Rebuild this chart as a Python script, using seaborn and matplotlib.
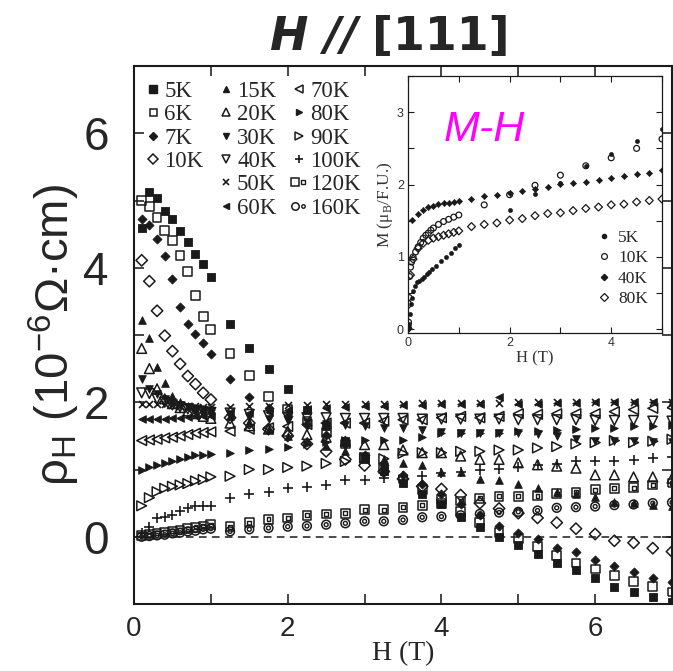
import numpy as np
import pandas as pd
import matplotlib
matplotlib.use("Agg")
import matplotlib.pyplot as plt
import seaborn as sns
from matplotlib.lines import Line2D
from matplotlib.legend_handler import HandlerTuple
from matplotlib.ticker import FixedLocator, FuncFormatter

# ---------------- data: main panel (Hall resistivity) ----------------
H_low = [0.1, 0.2, 0.3, 0.4, 0.5, 0.6, 0.7, 0.8, 0.9, 1.0]
H_high = [1.25, 1.5, 1.75, 2.0, 2.25, 2.5, 2.75, 3.0, 3.25, 3.5, 3.75, 4.0,
          4.25, 4.5, 4.75, 5.0, 5.25, 5.5, 5.75, 6.0, 6.25, 6.5, 6.75, 7.0]
field = H_low + H_high

rho_5K = [4.59, 5.13, 5.04, 4.84, 4.73, 4.54, 4.38, 4.2, 4.05, 3.86,
          3.17, 2.8, 2.49, 2.19, 1.89, 1.64, 1.42, 1.15, 0.98, 0.8, 0.63, 0.48,
          0.3, 0.14, -0.01, -0.12, -0.25, -0.39, -0.5, -0.62, -0.74, -0.82, -0.9, -0.97]
rho_6K = [5.0, 4.91, 4.75, 4.55, 4.4, 4.18, 3.94, 3.59, 3.27, 3.08,
          2.72, 2.4, 2.08, 1.9, 1.72, 1.55, 1.38, 1.18, 1.02, 0.86, 0.7, 0.55,
          0.38, 0.21, 0.06, -0.03, -0.15, -0.28, -0.39, -0.48, -0.58, -0.67, -0.74, -0.82]
rho_7K = [4.73, 4.63, 4.43, 4.17, 3.83, 3.41, 3.17, 3.02, 2.88, 2.72,
          2.35, 2.08, 1.92, 1.8, 1.66, 1.52, 1.38, 1.22, 1.06, 0.92, 0.78, 0.63,
          0.48, 0.33, 0.16, 0.06, -0.04, -0.16, -0.23, -0.34, -0.44, -0.52, -0.62, -0.67]
rho_10K = [4.11, 3.8, 3.36, 2.99, 2.76, 2.57, 2.39, 2.27, 2.14, 2.04,
           1.77, 1.69, 1.6, 1.5, 1.38, 1.27, 1.15, 1.06, 0.97, 0.86, 0.75, 0.71,
           0.62, 0.5, 0.42, 0.35, 0.28, 0.21, 0.12, 0.04, -0.06, -0.09, -0.17, -0.22]
rho_15K = [3.23, 2.96, 2.52, 2.29, 2.09, 2.0, 1.95, 1.92, 1.9, 1.88,
           1.8, 1.7, 1.6, 1.5, 1.42, 1.35, 1.28, 1.2, 1.15, 1.1, 1.06, 0.97,
           0.96, 0.86, 0.84, 0.79, 0.72, 0.67, 0.63, 0.59, 0.52, 0.5, 0.47, 0.45]
rho_20K = [2.8, 2.5, 2.2, 2.05, 1.98, 1.92, 1.87, 1.83, 1.79, 1.76,
           1.69, 1.65, 1.6, 1.57, 1.52, 1.48, 1.42, 1.37, 1.37, 1.29, 1.25, 1.25,
           1.2, 1.15, 1.15, 1.1, 1.07, 1.05, 1.02, 0.92, 0.92, 0.89, 0.89, 0.87]
rho_30K = [2.35, 2.2, 2.12, 2.05, 2.0, 1.96, 1.93, 1.9, 1.88, 1.87,
           1.82, 1.78, 1.75, 1.72, 1.7, 1.68, 1.66, 1.64, 1.62, 1.61, 1.59, 1.56,
           1.55, 1.54, 1.54, 1.54, 1.53, 1.5, 1.45, 1.43, 1.42, 1.42, 1.41, 1.41]
rho_40K = [2.14, 2.13, 2.05, 2.0, 1.96, 1.93, 1.9, 1.88, 1.86, 1.85,
           1.84, 1.82, 1.8, 1.78, 1.77, 1.77, 1.76, 1.76, 1.76, 1.76, 1.75, 1.75,
           1.75, 1.75, 1.75, 1.74, 1.74, 1.74, 1.74, 1.73, 1.73, 1.73, 1.72, 1.72]
rho_50K = [1.98, 1.98, 1.97, 1.97, 1.96, 1.95, 1.95, 1.94, 1.93, 1.93,
           1.93, 1.94, 1.95, 1.96, 1.96, 1.97, 1.97, 1.98, 1.98, 1.98, 1.99, 1.99,
           1.99, 1.99, 1.99, 2.0, 2.0, 2.0, 2.0, 2.0, 2.0, 2.01, 2.01, 2.01]
rho_60K = [1.75, 1.75, 1.75, 1.75, 1.76, 1.77, 1.78, 1.79, 1.8, 1.8,
           1.82, 1.84, 1.86, 1.88, 1.9, 1.92, 1.93, 1.94, 1.95, 1.96, 1.96, 1.97,
           1.97, 1.98, 2.08, 1.98, 1.98, 1.99, 1.99, 2.0, 2.0, 2.0, 2.01, 2.01]
rho_70K = [1.43, 1.44, 1.45, 1.47, 1.48, 1.5, 1.52, 1.54, 1.55, 1.56,
           1.57, 1.6, 1.62, 1.64, 1.67, 1.69, 1.69, 1.69, 1.72, 1.74, 1.74, 1.77,
           1.79, 1.77, 1.79, 1.83, 1.82, 1.83, 1.83, 1.83, 1.86, 1.89, 1.91, 1.92]
rho_80K = [1.0, 1.04, 1.07, 1.1, 1.12, 1.16, 1.19, 1.21, 1.22, 1.23,
           1.24, 1.29, 1.3, 1.34, 1.38, 1.41, 1.44, 1.44, 1.44, 1.44, 1.49, 1.54,
           1.54, 1.54, 1.55, 1.57, 1.57, 1.59, 1.6, 1.62, 1.62, 1.64, 1.65, 1.66]
rho_90K = [0.46, 0.58, 0.67, 0.72, 0.75, 0.77, 0.79, 0.83, 0.85, 0.89,
           0.9, 1.0, 1.0, 1.03, 1.05, 1.09, 1.12, 1.17, 1.16, 1.24, 1.25, 1.25,
           1.27, 1.27, 1.29, 1.29, 1.32, 1.34, 1.38, 1.4, 1.43, 1.4, 1.42, 1.45]
rho_100K = [0.05, 0.15, 0.28, 0.3, 0.33, 0.38, 0.43, 0.46, 0.46, 0.46,
            0.58, 0.64, 0.66, 0.72, 0.74, 0.77, 0.84, 0.85, 0.88, 0.9, 0.91, 0.95,
            0.97, 1.0, 1.01, 1.04, 1.07, 1.08, 1.12, 1.12, 1.12, 1.14, 1.17, 1.18]
rho_120K = [0.02, 0.03, 0.05, 0.07, 0.08, 0.1, 0.12, 0.14, 0.16, 0.18,
            0.15, 0.21, 0.26, 0.28, 0.32, 0.34, 0.35, 0.4, 0.4, 0.44, 0.47, 0.49,
            0.53, 0.57, 0.6, 0.6, 0.61, 0.64, 0.66, 0.7, 0.72, 0.73, 0.77, 0.8]
rho_160K = [0.0, 0.01, 0.02, 0.03, 0.05, 0.06, 0.08, 0.09, 0.11, 0.12,
            0.08, 0.11, 0.13, 0.15, 0.16, 0.18, 0.2, 0.23, 0.23, 0.25, 0.29, 0.3,
            0.32, 0.34, 0.36, 0.37, 0.39, 0.43, 0.44, 0.45, 0.47, 0.48, 0.5, 0.51]

temps = ["5K", "6K", "7K", "10K", "15K", "20K", "30K", "40K",
         "50K", "60K", "70K", "80K", "90K", "100K", "120K", "160K"]
rho_all = [rho_5K, rho_6K, rho_7K, rho_10K, rho_15K, rho_20K, rho_30K, rho_40K,
           rho_50K, rho_60K, rho_70K, rho_80K, rho_90K, rho_100K, rho_120K, rho_160K]

# ---------------- data: inset (magnetization) ----------------
mh_H_5K = [0.0, 0.01, 0.02, 0.04, 0.06, 0.08, 0.1, 0.13, 0.17, 0.22, 0.27, 0.32, 0.37,
           0.42, 0.47, 0.55, 0.65, 0.75, 0.85, 0.92, 1.0, 2.0, 2.5, 3.0, 3.5, 4.0, 4.5, 5.0]
mh_M_5K = [0.0, 0.02, 0.07, 0.21, 0.35, 0.44, 0.53, 0.6, 0.65, 0.67, 0.7, 0.73, 0.76,
           0.79, 0.83, 0.87, 0.95, 1.0, 1.06, 1.12, 1.17, 1.65, 1.87, 2.02, 2.25, 2.42, 2.6, 2.77]
mh_H_10K = [0.0, 0.01, 0.02, 0.03, 0.05, 0.07, 0.1, 0.15, 0.2, 0.25, 0.3, 0.35, 0.4, 0.45,
            0.5, 0.6, 0.7, 0.8, 0.9, 1.0, 1.5, 2.0, 2.5, 3.0, 3.5, 4.0, 4.5, 5.0]
mh_M_10K = [0.03, 0.1, 0.44, 0.73, 0.86, 0.93, 1.0, 1.07, 1.14, 1.2, 1.26, 1.3, 1.33, 1.37,
            1.4, 1.45, 1.49, 1.52, 1.55, 1.58, 1.72, 1.86, 1.99, 2.13, 2.26, 2.37, 2.5, 2.63]
mh_H_40K = [0.0, 0.07, 0.2, 0.3, 0.4, 0.5, 0.6, 0.7, 0.8, 0.9, 1.0, 1.25, 1.5, 1.75, 2.0,
            2.25, 2.5, 2.75, 3.0, 3.25, 3.5, 3.75, 4.0, 4.25, 4.5, 4.75, 5.0]
mh_M_40K = [0.02, 1.51, 1.6, 1.65, 1.69, 1.71, 1.73, 1.74, 1.75, 1.76, 1.78, 1.8, 1.84, 1.86,
            1.89, 1.91, 1.94, 1.97, 2.01, 2.02, 2.04, 2.07, 2.09, 2.12, 2.14, 2.16, 2.2]
mh_H_80K = [0.0, 0.02, 0.05, 0.1, 0.2, 0.3, 0.4, 0.5, 0.6, 0.7, 0.8, 0.9, 1.0, 1.25, 1.5,
            1.75, 2.0, 2.25, 2.5, 2.75, 3.0, 3.25, 3.5, 3.75, 4.0, 4.25, 4.5, 4.75, 5.0]
mh_M_80K = [0.01, 0.35, 0.75, 0.97, 1.12, 1.19, 1.23, 1.26, 1.28, 1.3, 1.32, 1.34, 1.36, 1.42,
            1.45, 1.47, 1.51, 1.53, 1.57, 1.6, 1.61, 1.64, 1.67, 1.69, 1.72, 1.73, 1.76, 1.78, 1.8]

# ---------------- style ----------------
sns.set_theme(style="ticks")
plt.rcParams["font.family"] = ["Liberation Sans", "DejaVu Sans"]
plt.rcParams["mathtext.fontset"] = "dejavusans"
serif = ["Liberation Serif", "DejaVu Serif"]

fig = plt.figure(figsize=(6.73, 6.71), dpi=100)
ax = fig.add_axes([134 / 673, 1 - 604 / 671, 538 / 673, 538 / 671])

# marker, filled?, size (pt)
styles = {
    "5K": ("s", True, 6.3), "6K": ("s", False, 6.3), "7K": ("D", True, 4.6),
    "10K": ("D", False, 5.8), "15K": ("^", True, 5.5), "20K": ("^", False, 7.0),
    "30K": ("v", True, 5.5), "40K": ("v", False, 7.0), "50K": ("x", None, 5.0),
    "60K": ("<", True, 5.5), "70K": ("<", False, 7.0), "80K": (">", True, 5.5),
    "90K": (">", False, 7.0), "100K": ("+", None, 7.0), "120K": ("s", "double", 6.3),
    "160K": ("o", "double", 6.3),
}

df = pd.DataFrame({"H": np.tile(field, len(temps)),
                   "rho": np.concatenate(rho_all),
                   "T": np.repeat(temps, len(field))})

handles = {}
for t in temps:
    m, fill, ms = styles[t]
    d = df[df["T"] == t]
    s = ms ** 2
    if fill is True:
        sns.scatterplot(data=d, x="H", y="rho", marker=m, s=s, color="k",
                        edgecolor="k", linewidth=0.6, ax=ax, zorder=3)
        handles[t] = Line2D([], [], ls="none", marker=m, ms=ms * 0.85, mfc="k", mec="k")
    elif fill is False:
        sns.scatterplot(data=d, x="H", y="rho", marker=m, s=s, facecolors="none",
                        edgecolor="k", linewidth=1.1, ax=ax, zorder=3)
        handles[t] = Line2D([], [], ls="none", marker=m, ms=ms * 0.8, mfc="none",
                            mec="k", mew=1.1)
    elif fill is None:
        sns.scatterplot(data=d, x="H", y="rho", marker=m, s=s, color="k",
                        linewidth=1.2, ax=ax, zorder=3)
        handles[t] = Line2D([], [], ls="none", marker=m, ms=ms * 0.85, mec="k", mew=1.2)
    else:
        sns.scatterplot(data=d, x="H", y="rho", marker=m, s=s, facecolors="none",
                        edgecolor="k", linewidth=1.1, ax=ax, zorder=3)
        sns.scatterplot(data=d, x="H", y="rho", marker=m, s=(ms * 0.45) ** 2,
                        facecolors="none", edgecolor="k", linewidth=1.0, ax=ax, zorder=3)
        h1 = Line2D([], [], ls="none", marker=m, ms=ms * 0.85, mfc="none", mec="k", mew=1.1)
        h2 = Line2D([], [], ls="none", marker=m, ms=ms * 0.4, mfc="none", mec="k", mew=1.0)
        handles[t] = (h1, h2)

ax.axhline(0, color="k", ls=(0, (5, 3.5)), lw=1.1, zorder=1)

ax.set_xlim(0, 7)
ax.set_ylim(-1, 7)
ax.xaxis.set_major_locator(FixedLocator([0, 1, 2, 3, 4, 5, 6, 7]))
ax.yaxis.set_major_locator(FixedLocator([-1, 0, 1, 2, 3, 4, 5, 6, 7]))
evenfmt = FuncFormatter(lambda v, p: f"{int(round(v))}" if (round(v) % 2 == 0 and 0 <= v <= 6) else "")
ax.xaxis.set_major_formatter(evenfmt)
ax.yaxis.set_major_formatter(evenfmt)
ax.tick_params(direction="in", length=7, width=1.2, top=True, right=True)
ax.tick_params(axis="x", labelsize=20, pad=9)
ax.tick_params(axis="y", labelsize=33, pad=18)
for sp in ax.spines.values():
    sp.set_linewidth(1.5)
    sp.set_color("k")

ax.set_xlabel("H (T)", fontsize=20, family=serif, labelpad=-1)
ax.set_ylabel("ρ$_{\\mathregular{H}}$ (10$^{\\mathregular{-6}}$Ω·cm)", fontsize=34, labelpad=1)

blank = Line2D([], [], ls="none", marker="")
order = ["5K", "6K", "7K", "10K", None, None, "15K", "20K", "30K", "40K", "50K", "60K",
         "70K", "80K", "90K", "100K", "120K", "160K"]
leg_h = [handles[t] if t else blank for t in order]
leg_l = [t if t else "" for t in order]
leg = ax.legend(leg_h, leg_l, ncol=3, loc="upper left", bbox_to_anchor=(0.02, 0.972),
                frameon=False, prop={"family": serif, "size": 16.5},
                handlelength=0.7, handletextpad=0.15, columnspacing=0.62,
                labelspacing=0.1, borderaxespad=0, borderpad=0,
                handler_map={tuple: HandlerTuple(ndivide=None, pad=0)})

# ---------------- inset ----------------
ins = fig.add_axes([408 / 673, 1 - 333 / 671, 254 / 673, 257 / 671])
ins_sets = [
    ("5K", mh_H_5K, mh_M_5K, "o", True, 3.0),
    ("10K", mh_H_10K, mh_M_10K, "o", False, 4.2),
    ("40K", mh_H_40K, mh_M_40K, "D", True, 3.2),
    ("80K", mh_H_80K, mh_M_80K, "D", False, 4.0),
]
ins_handles = []
for lab, hx, my, m, filled, ms in ins_sets:
    d = pd.DataFrame({"H": hx, "M": my})
    if filled:
        sns.scatterplot(data=d, x="H", y="M", marker=m, s=ms ** 2, color="k",
                        edgecolor="k", linewidth=0.4, ax=ins, zorder=3)
        ins_handles.append(Line2D([], [], ls="none", marker=m, ms=ms, mfc="k", mec="k"))
    else:
        sns.scatterplot(data=d, x="H", y="M", marker=m, s=ms ** 2, facecolors="none",
                        edgecolor="k", linewidth=0.9, ax=ins, zorder=3)
        ins_handles.append(Line2D([], [], ls="none", marker=m, ms=ms, mfc="none",
                                  mec="k", mew=0.9))
ins.set_xlim(0, 5)
ins.set_ylim(-0.05, 3.5)
ins.xaxis.set_major_locator(FixedLocator([0, 1, 2, 3, 4, 5]))
ins.xaxis.set_major_formatter(FuncFormatter(lambda v, p: f"{int(round(v))}" if round(v) in (0, 2, 4) else ""))
ins.yaxis.set_major_locator(FixedLocator([0, 0.5, 1, 1.5, 2, 2.5, 3, 3.5]))
ins.yaxis.set_major_formatter(FuncFormatter(lambda v, p: f"{int(round(v))}" if abs(v - round(v)) < 1e-6 and v < 3.4 else ""))
ins.tick_params(direction="in", length=4, width=0.8, top=True, right=True, labelsize=9, pad=3,
                colors="k", labelcolor="#333333")
for sp in ins.spines.values():
    sp.set_linewidth(0.9)
    sp.set_color("k")
ins.set_xlabel("H (T)", fontsize=12, family=serif, labelpad=1, color="#333333")
ins.set_ylabel("M (μ$_{\\mathregular{B}}$/F.U.)", fontsize=12.5, family=serif, labelpad=1,
               color="#333333")
ins.legend(ins_handles, [s[0] for s in ins_sets], loc="lower right",
           bbox_to_anchor=(0.945, 0.1), frameon=False,
           prop={"family": serif, "size": 12.5}, handlelength=0.6, handletextpad=0.5,
           labelspacing=0.25, borderaxespad=0, borderpad=0)
ins.text(1.5, 2.75, "M-H", color="#ff00ff", fontsize=31, style="italic",
         ha="center", va="center", family=["Liberation Sans", "DejaVu Sans"])

# ---------------- title ----------------
tfam = ["Liberation Sans Narrow", "DejaVu Sans Condensed", "DejaVu Sans"]
fig.text(358 / 673, 1 - 37 / 671, "H //", fontsize=33, fontweight="bold", style="italic",
         family=tfam, ha="right", va="center")
fig.text(372 / 673, 1 - 37 / 671, "[111]", fontsize=33, fontweight="bold",
         family=tfam, ha="left", va="center")

fig.savefig("out.png", dpi=100)
